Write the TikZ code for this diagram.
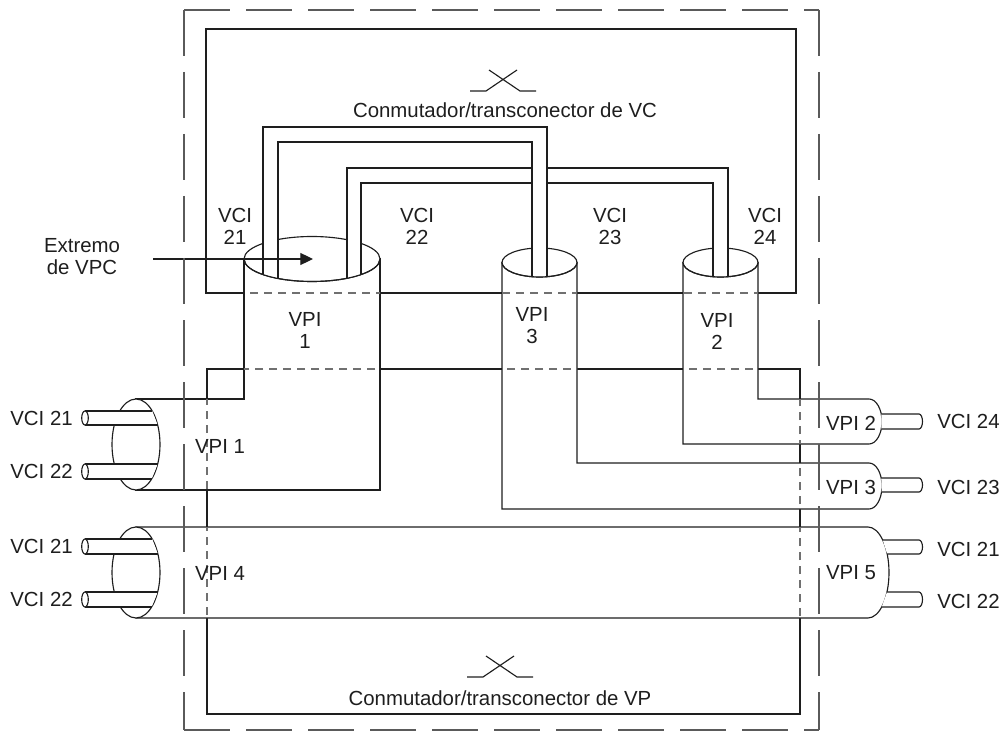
\documentclass[tikz,border=0pt]{standalone}
\usepackage{fontspec}
\setmainfont{Liberation Sans}
\usetikzlibrary{arrows.meta}
\definecolor{ink}{HTML}{1E1E1E}
\definecolor{hid}{HTML}{707070}
\definecolor{fram}{HTML}{5A5A5A}
\tikzset{
  wall/.style={draw=ink, line width=0.85pt},
  tube/.style={draw=ink, line width=0.85pt, fill=white},
  hidden/.style={draw=hid, line width=0.85pt, dash pattern=on 6pt off 4.5pt},
  frame/.style={draw=fram, line width=1pt, dash pattern=on 34.5pt off 12pt},
  lbl/.style={font=\fontsize{15.3}{16.5}\selectfont, inner sep=0pt, align=center, text=ink},
  pointer/.style={-{Triangle[length=9.5pt,width=9pt]}, draw=ink, line width=0.85pt},
}
% cuerpos de los VP (tubos)
\newcommand{\bodyone}{(244,259)--(244,399)--(136,399)--(136,490)--(380,490)--(380,259)--cycle}
\newcommand{\bodytwo}{(683,262.5)--(683,444)--(869,444) arc[start angle=90,end angle=-90,x radius=13,y radius=22.5]--(758,399)--(758,262.5)--cycle}
\newcommand{\bodythree}{(502,262.5)--(502,509)--(869,509) arc[start angle=90,end angle=-90,x radius=13,y radius=23]--(577,463)--(577,262.5)--cycle}
\newcommand{\bodyfour}{(136,527)--(868,527) arc[start angle=-90,end angle=90,x radius=21,y radius=45.5]--(136,618)--cycle}

\begin{document}
\begin{tikzpicture}[x=0.75pt,y=-0.75pt]
  \useasboundingbox (0,0) rectangle (1006,734);
  % conmutadores VC y VP
  \draw[wall] (206,29) rectangle (796,293);
  \draw[wall] (207,369) rectangle (800,714);
  % tubos VPI
  \filldraw[tube] \bodyfour;
  \filldraw[tube] \bodythree;
  \filldraw[tube] \bodytwo;
  \filldraw[tube] \bodyone;
  % lineas ocultas
  \begin{scope}
    \clip \bodyone;
    \draw[hidden] (206,29) rectangle (796,293) (207,369) rectangle (800,714);
  \end{scope}
  \begin{scope}
    \clip \bodytwo;
    \draw[hidden] (206,29) rectangle (796,293) (207,369) rectangle (800,714);
  \end{scope}
  \begin{scope}
    \clip \bodythree;
    \draw[hidden] (206,29) rectangle (796,293) (207,369) rectangle (800,714);
  \end{scope}
  \begin{scope}
    \clip \bodyfour;
    \draw[hidden] (206,29) rectangle (796,293) (207,369) rectangle (800,714);
  \end{scope}
  % extremos
  \filldraw[tube] (136,444.5) ellipse [x radius=24,y radius=45.5];
  \filldraw[tube] (136,572.5) ellipse [x radius=24,y radius=45.5];
  \filldraw[tube] (312,259) ellipse [x radius=68,y radius=22.5];
  \filldraw[tube] (539.5,262.5) ellipse [x radius=37.5,y radius=14.5];
  \filldraw[tube] (720.5,262.5) ellipse [x radius=37.5,y radius=14.5];
  % VC dentro del conmutador
  \fill[white] (347,278.3)--(347,168)--(728,168)--(728,276.7)--(713,276.7)--(713,183)--(361,183)--(361,274.6)--cycle;
  \draw[wall] (347,278.3)--(347,168)--(728,168)--(728,276.7);
  \draw[wall] (361,274.6)--(361,183)--(713,183)--(713,276.7);
  \fill[white] (263,274.6)--(263,127)--(547,127)--(547,276.7)--(532,276.7)--(532,142)--(278,142)--(278,278.5)--cycle;
  \draw[wall] (263,274.6)--(263,127)--(547,127)--(547,276.7);
  \draw[wall] (278,278.5)--(278,142)--(532,142)--(532,276.7);
  \draw[wall] (380,259) arc[start angle=0,end angle=180,x radius=68,y radius=22.5];
  \draw[wall] (577,262.5) arc[start angle=0,end angle=180,x radius=37.5,y radius=14.5];
  \draw[wall] (758,262.5) arc[start angle=0,end angle=180,x radius=37.5,y radius=14.5];
  % VC exteriores
  \foreach \ya/\yb/\xa/\xb in {411/425/152.2/157.7, 464/479/157.7/151.6, 539/554/152.2/157.9, 592/607/157.7/151.6}{
    \fill[white] (85,\ya)--(\xa,\ya)--(\xb,\yb)--(85,\yb)--cycle;
    \draw[wall] (85,\ya)--(\xa,\ya) (85,\yb)--(\xb,\yb);
    \filldraw[tube] (85,{(\ya+\yb)/2}) ellipse [x radius=3.3,y radius={(\yb-\ya)/2}];
  }
  \foreach \ya/\yb/\xa/\xb in {414/429/881.3/881.3, 478/492/881.2/881.6, 540/554/882.7/887.2, 592/607/887/881.7}{
    \filldraw[tube] (\xa,\ya)--(919,\ya) arc[start angle=-90,end angle=90,x radius=3.5,y radius={(\yb-\ya)/2}]--(\xb,\yb);
  }
  % simbolos de conmutacion
  \draw[wall] (470,91)--(486,91)--(517,70) (536,91)--(520,91)--(489,70);
  \draw[wall] (467,677)--(483,677)--(514,656) (533,677)--(517,677)--(486,656);
  \node[lbl,anchor=base] (vctitle) at (505,118) {Conmutador/transconector de VC};
  \node[lbl,anchor=base] (vptitle) at (500,705) {Conmutador/transconector de VP};
  % etiquetas
  \node[lbl] (vci21t) at (235,226) {VCI\\21};
  \node[lbl] (vci22t) at (417,226) {VCI\\22};
  \node[lbl] (vci23t) at (610,226) {VCI\\23};
  \node[lbl] (vci24t) at (765,226) {VCI\\24};
  \node[lbl] (vpi1t) at (305,330) {VPI\\1};
  \node[lbl] (vpi3t) at (532,326) {VPI\\3};
  \node[lbl] (vpi2t) at (717,331) {VPI\\2};
  \node[lbl] (vpi1l) at (220,446) {VPI 1};
  \node[lbl] (vpi4l) at (220,573) {VPI 4};
  \node[lbl] (vpi2r) at (851,423) {VPI 2};
  \node[lbl] (vpi3r) at (851,487) {VPI 3};
  \node[lbl] (vpi5r) at (851,573) {VPI 5};
  \node[lbl,anchor=east] (l21a) at (73,418) {VCI 21};
  \node[lbl,anchor=east] (l22a) at (73,471) {VCI 22};
  \node[lbl,anchor=east] (l21b) at (73,546) {VCI 21};
  \node[lbl,anchor=east] (l22b) at (73,599) {VCI 22};
  \node[lbl,anchor=west] (r24) at (937,421) {VCI 24};
  \node[lbl,anchor=west] (r23) at (937,487) {VCI 23};
  \node[lbl,anchor=west] (r21) at (937,549) {VCI 21};
  \node[lbl,anchor=west] (r22) at (937,601) {VCI 22};
  \node[lbl] (ext) at (82,257) {Extremo\\de VPC};
  \coordinate (extin) at (153,259);
  \coordinate (vpc) at (313,259);
  \draw[pointer] (extin) -- (vpc);
  % frontera del equipo
  \draw[frame] (184,10)--(819,10) (184,10)--(184,730) (184,730)--(819,730) (819,10)--(819,730);
\end{tikzpicture}
\end{document}
